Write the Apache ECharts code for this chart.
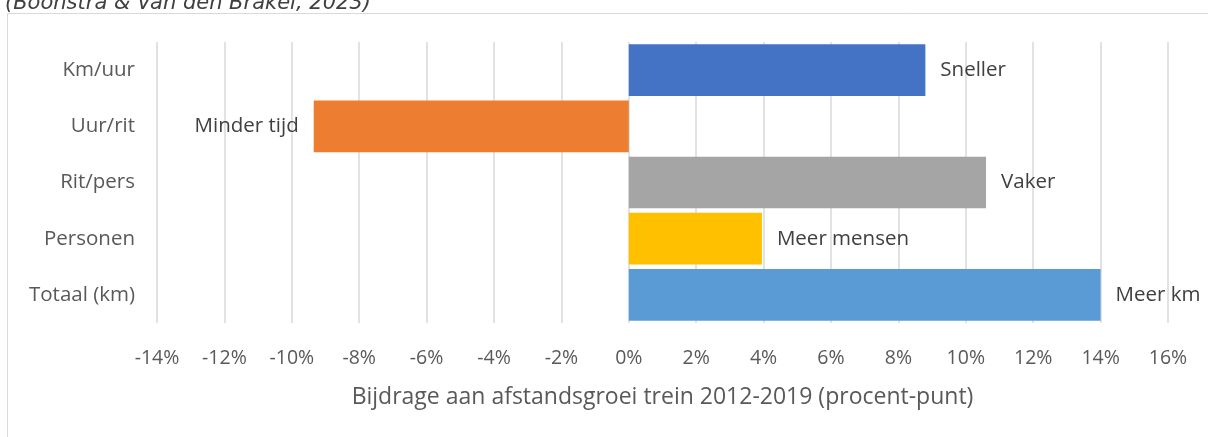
<!DOCTYPE html>
<html>
<head>
<meta charset="utf-8">
<script src="https://cdn.jsdelivr.net/npm/echarts@6/dist/echarts.min.js"></script>
<style>
  html, body { margin: 0; padding: 0; background: #fff; }
  #main { width: 1208px; height: 437px; }
</style>
</head>
<body>
<div id="main"></div>
<script>
// categorieen (van boven naar beneden)
const categories = ['Km/uur', 'Uur/rit', 'Rit/pers', 'Personen', 'Totaal (km)'];
// bijdrage in procentpunt
const values = [8.8, -9.35, 10.6, 3.95, 14.0];
const barLabels = ['Sneller', 'Minder tijd', 'Vaker', 'Meer mensen', 'Meer km'];
const barColors = ['#4472C4', '#ED7D31', '#A5A5A5', '#FFC000', '#5B9BD5'];
const xTicks = { min: -14, max: 16, interval: 2 };

const font = 'Open Sans';
const textColor = '#595959';

const data = values.map(function (v, i) {
  return {
    value: v,
    itemStyle: { color: barColors[i] },
    label: { position: v < 0 ? 'left' : 'right' }
  };
});

let myChart = echarts.init(document.getElementById('main'));
myChart.setOption({
  animation: false,
  backgroundColor: '#fff',
  grid: { left: 157, right: 40, top: 42, bottom: 114 },
  graphic: [
    {
      type: 'rect',
      shape: { x: 7.5, y: 13.5, width: 1400, height: 600 },
      style: { fill: 'none', stroke: '#D9D9D9', lineWidth: 1 },
      silent: true
    },
    {
      type: 'text',
      x: 5, y: 14,
      style: {
        text: '(Boonstra & Van den Brakel, 2023)',
        font: 'italic 21px "DejaVu Sans"',
        fill: '#404040',
        verticalAlign: 'bottom'
      }
    }
  ],
  xAxis: {
    type: 'value',
    min: xTicks.min, max: xTicks.max, interval: xTicks.interval,
    axisLine: { show: false },
    axisTick: { show: false },
    splitLine: { lineStyle: { color: '#D9D9D9', width: 1.5 } },
    axisLabel: {
      formatter: '{value}%', margin: 25,
      color: textColor, fontFamily: font, fontSize: 19.5
    },
    name: 'Bijdrage aan afstandsgroei trein 2012-2019 (procent-punt)',
    nameLocation: 'middle', nameGap: 63,
    nameTextStyle: { color: textColor, fontFamily: font, fontSize: 23 }
  },
  yAxis: {
    type: 'category',
    data: categories,
    inverse: true,
    axisLine: { show: false },
    axisTick: { show: false },
    axisLabel: { margin: 22, color: textColor, fontFamily: font, fontSize: 20.5 }
  },
  series: [{
    type: 'bar',
    data: data,
    barCategoryGap: '8%',
    label: {
      show: true,
      distance: 15,
      formatter: function (p) { return barLabels[p.dataIndex]; },
      color: '#404040', fontFamily: font, fontSize: 20.5
    }
  }]
});
window.onresize = function () {
  myChart.resize();
};
</script>
</body>
</html>
